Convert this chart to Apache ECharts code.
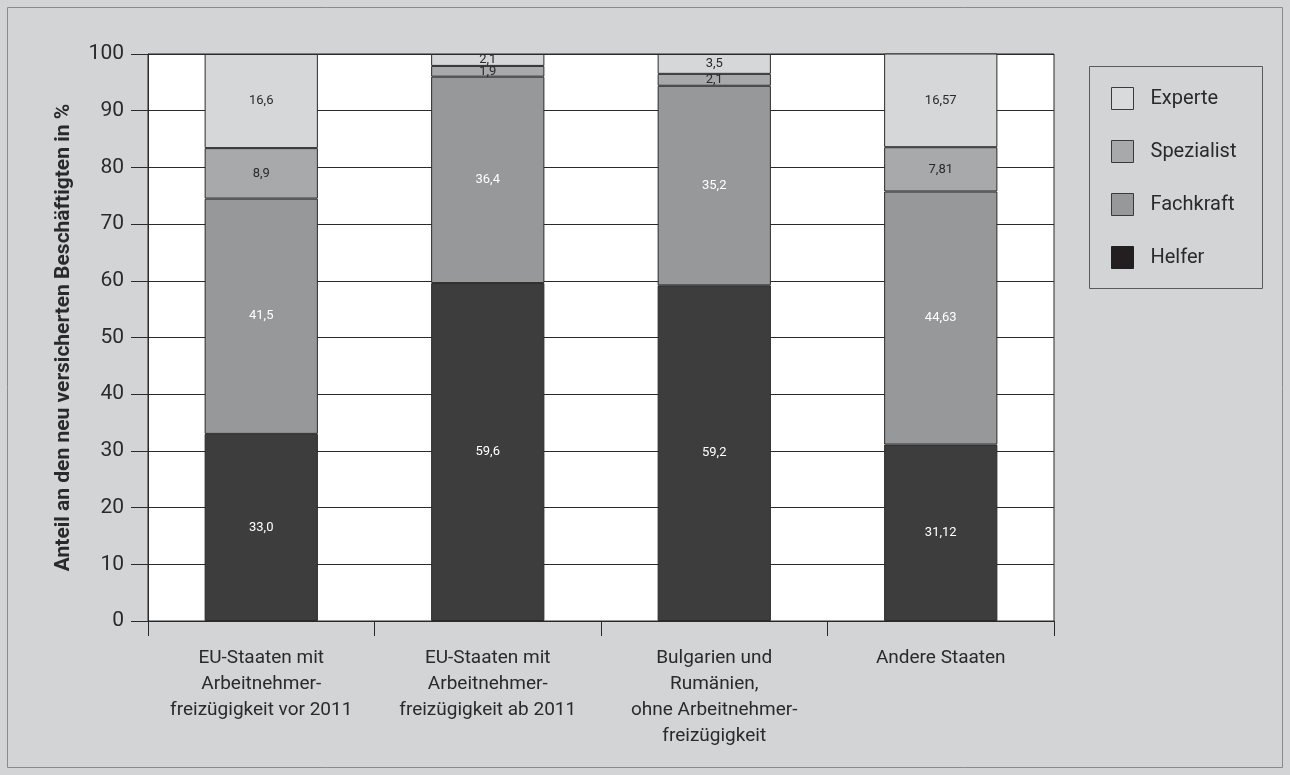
<!DOCTYPE html>
<html>
<head>
<meta charset="utf-8">
<script src="https://cdn.jsdelivr.net/npm/echarts@6/dist/echarts.min.js"></script>
<style>
  html, body { margin: 0; padding: 0; background: #d3d4d6; }
  #chart { width: 1290px; height: 775px; }
</style>
</head>
<body>
<div id="chart"></div>
<script>
// Anteil an den neu versicherten Beschäftigten nach Anforderungsniveau
const categories = [
  'EU-Staaten mit\nArbeitnehmer-\nfreizügigkeit vor 2011',
  'EU-Staaten mit\nArbeitnehmer-\nfreizügigkeit ab 2011',
  'Bulgarien und\nRumänien,\nohne Arbeitnehmer-\nfreizügigkeit',
  'Andere Staaten'
];
const helfer     = [33.0, 59.6, 59.2, 31.12];
const fachkraft  = [41.5, 36.4, 35.2, 44.63];
const spezialist = [8.9, 1.9, 2.1, 7.81];
const experte    = [16.6, 2.1, 3.5, 16.57];
// decimals shown in the labels per category
const decimals = [1, 1, 1, 2];
const yTicks = [0, 10, 20, 30, 40, 50, 60, 70, 80, 90, 100];

const FONT = 'Roboto, "DejaVu Sans", sans-serif';

function fmt(p) {
  return Number(p.value).toFixed(decimals[p.dataIndex]).replace('.', ',');
}

function makeSeries(name, data, color, labelColor) {
  return {
    name: name,
    type: 'bar',
    stack: 'total',
    barWidth: '50%',
    data: data,
    itemStyle: { color: color, borderColor: '#2a2a2a', borderWidth: 1 },
    label: {
      show: true,
      position: 'inside',
      formatter: fmt,
      color: labelColor,
      fontFamily: FONT,
      fontSize: 13
    },
    emphasis: { disabled: true }
  };
}

const chart = echarts.init(document.getElementById('chart'), null, { renderer: 'canvas' });

chart.setOption({
  backgroundColor: '#d3d4d6',
  animation: false,
  textStyle: { fontFamily: FONT },
  graphic: [
    {
      type: 'rect',
      shape: { x: 7.5, y: 7.5, width: 1275, height: 760 },
      style: { fill: 'none', stroke: '#8a8a8a', lineWidth: 1 },
      z: -1
    },
    {
      type: 'rect',
      shape: { x: 1089.5, y: 66.5, width: 173, height: 222 },
      style: { fill: 'none', stroke: '#5a5a5a', lineWidth: 1 },
      z: 1
    }
  ],
  grid: {
    left: 148, right: 236, top: 54, bottom: 154,
    show: true,
    backgroundColor: '#ffffff',
    borderColor: '#2a2a2a',
    borderWidth: 1
  },
  legend: {
    orient: 'vertical',
    left: 1111,
    top: 87,
    padding: 0,
    itemWidth: 22,
    itemHeight: 22,
    itemGap: 30,
    icon: 'rect',
    textStyle: { fontSize: 20, color: '#2a2a2a', fontFamily: FONT, padding: [0, 0, 0, 12] },
    data: [
      { name: 'Experte', itemStyle: { color: '#d9dadc', borderColor: '#3a3a3a', borderWidth: 1 } },
      { name: 'Spezialist', itemStyle: { color: '#a8a9ab', borderColor: '#3a3a3a', borderWidth: 1 } },
      { name: 'Fachkraft', itemStyle: { color: '#97989a', borderColor: '#3a3a3a', borderWidth: 1 } },
      { name: 'Helfer', itemStyle: { color: '#231f20', borderColor: '#231f20', borderWidth: 1 } }
    ]
  },
  xAxis: {
    type: 'category',
    data: categories,
    axisLine: { lineStyle: { color: '#2a2a2a', width: 1 } },
    axisTick: { show: true, interval: 0, length: 15, lineStyle: { color: '#2a2a2a' } },
    axisLabel: {
      interval: 0,
      color: '#2a2a2a',
      fontSize: 19,
      lineHeight: 26,
      margin: 24,
      fontFamily: FONT
    }
  },
  yAxis: {
    type: 'value',
    min: yTicks[0],
    max: yTicks[yTicks.length - 1],
    interval: 10,
    name: 'Anteil an den neu versicherten Beschäftigten in %',
    nameLocation: 'middle',
    nameGap: 74,
    nameTextStyle: { fontSize: 21, fontWeight: 'bold', color: '#2a2a2a', fontFamily: FONT },
    axisLine: { show: true, lineStyle: { color: '#2a2a2a', width: 1 } },
    axisTick: { show: true, length: 17, lineStyle: { color: '#2a2a2a' } },
    axisLabel: { color: '#2a2a2a', fontSize: 21, margin: 24, fontFamily: FONT },
    splitLine: { show: true, lineStyle: { color: '#2a2a2a', width: 1 } }
  },
  series: [
    makeSeries('Helfer', helfer, '#3d3d3d', '#ffffff'),
    makeSeries('Fachkraft', fachkraft, '#97989a', '#ffffff'),
    makeSeries('Spezialist', spezialist, '#a8a9ab', '#2a2a2a'),
    makeSeries('Experte', experte, '#d6d7d9', '#2a2a2a')
  ]
});
</script>
</body>
</html>
